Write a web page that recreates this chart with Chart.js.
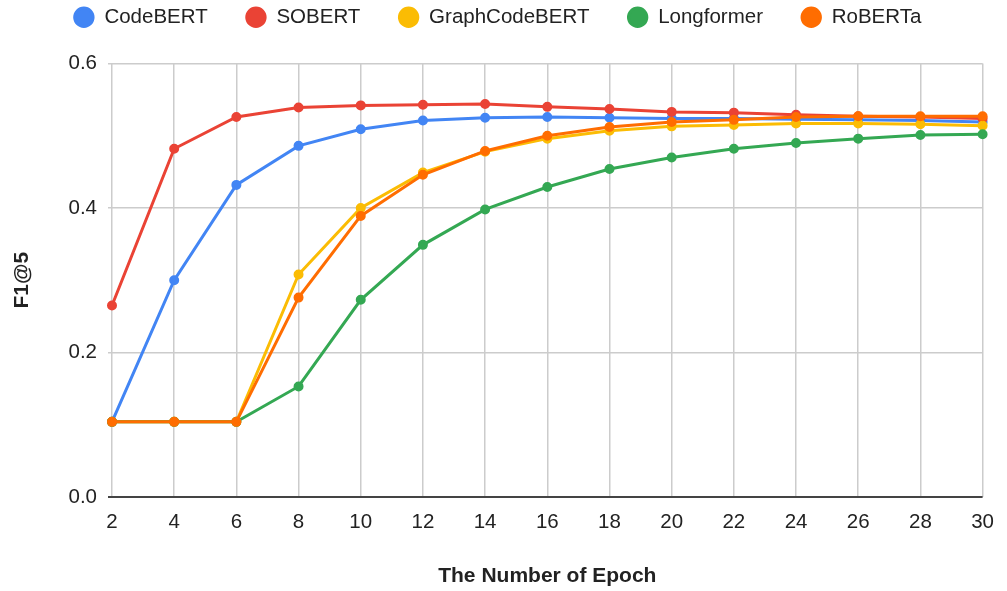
<!DOCTYPE html>
<html>
<head>
<meta charset="utf-8">
<script src="https://cdn.jsdelivr.net/npm/chart.js@4/dist/chart.umd.min.js"></script>
<style>
  html, body { margin: 0; padding: 0; background: #fff; }
  #wrap { width: 1007px; height: 591px; }
</style>
</head>
<body>
<div id="wrap"><canvas id="f1Chart"></canvas></div>
<script>
// ================= DATA =================
const epochs = ["2", "4", "6", "8", "10", "12", "14", "16", "18", "20", "22", "24", "26", "28", "30"];

const codebert = [0.104, 0.300, 0.432, 0.486, 0.509, 0.521, 0.525, 0.526, 0.525, 0.524, 0.524, 0.523, 0.522, 0.521, 0.519];
const sobert = [0.265, 0.482, 0.526, 0.539, 0.542, 0.543, 0.544, 0.540, 0.537, 0.533, 0.532, 0.529, 0.527, 0.526, 0.524];
const graphcodebert = [0.104, 0.104, 0.104, 0.308, 0.400, 0.449, 0.478, 0.496, 0.507, 0.513, 0.515, 0.517, 0.517, 0.516, 0.514];
const longformer = [0.104, 0.104, 0.104, 0.153, 0.273, 0.349, 0.398, 0.429, 0.454, 0.470, 0.482, 0.490, 0.496, 0.501, 0.502];
const roberta = [0.104, 0.104, 0.104, 0.276, 0.389, 0.446, 0.479, 0.500, 0.512, 0.519, 0.522, 0.526, 0.527, 0.527, 0.527];

const yTicks = [0, 0.2, 0.4, 0.6];

// ================= CHART =================
const FONT = "'Liberation Sans', Arial, sans-serif";
const FS = 20.5;

function series(label, data, color, order) {
  return {
    label: label,
    data: data,
    borderColor: color,
    backgroundColor: color,
    borderWidth: 3,
    pointRadius: 3.5,
    pointHoverRadius: 4,
    tension: 0,
    order: order, // later series drawn on top
  };
}

const ctx = document.getElementById("f1Chart");

new Chart(ctx, {
  type: "line",
  data: {
    labels: epochs,
    datasets: [
      series("CodeBERT", codebert, "#4285F4", 5),
      series("SOBERT", sobert, "#EA4335", 4),
      series("GraphCodeBERT", graphcodebert, "#FBBC04", 3),
      series("Longformer", longformer, "#34A853", 2),
      series("RoBERTa", roberta, "#FF6D01", 1),
    ],
  },
  options: {
    responsive: true,
    maintainAspectRatio: false,
    animation: false,
    // negative top so the legend sits high while keeping wide item spacing
    layout: { padding: { left: 6, right: 18, top: -31, bottom: 0 } },
    plugins: {
      tooltip: { enabled: false },
      legend: {
        position: "top",
        reverse: true,
        labels: {
          usePointStyle: true,
          pointStyle: "circle",
          boxWidth: FS,
          boxHeight: 13,
          padding: 38,
          color: "#222",
          font: { family: FONT, size: FS },
        },
      },
    },
    scales: {
      // empty spacer between legend and plot
      spacer: {
        type: "category",
        position: "top",
        grid: { display: false },
        border: { display: false },
        ticks: { display: false },
        afterFit: (s) => { s.height = 26; },
      },
      x: {
        type: "category",
        offset: false,
        grid: { color: "#cccccc", lineWidth: 1.5, drawTicks: false },
        border: { display: false },
        ticks: { color: "#222", font: { family: FONT, size: FS }, padding: 13, maxRotation: 0, autoSkip: false },
        title: {
          display: true,
          text: "The Number of Epoch",
          color: "#222",
          font: { family: FONT, size: 21, weight: "bold" },
          padding: { top: 4, bottom: 2 },
        },
        afterFit: (s) => { s.height = 94; },
      },
      y: {
        min: 0,
        max: 0.6,
        afterBuildTicks: (s) => { s.ticks = yTicks.map((v) => ({ value: v })); },
        grid: {
          color: (c) => (c.tick && c.tick.value === 0 ? "#444444" : "#cccccc"),
          lineWidth: (c) => (c.tick && c.tick.value === 0 ? 2 : 1.5),
          tickLength: 4,
        },
        border: { display: false },
        ticks: {
          color: "#222",
          font: { family: FONT, size: FS },
          padding: 11,
          callback: (v) => Number(v).toFixed(1),
        },
        title: {
          display: true,
          text: "F1@5",
          color: "#222",
          font: { family: FONT, size: 21, weight: "bold" },
        },
        afterFit: (s) => { s.width = 106; },
      },
    },
  },
});
</script>
</body>
</html>
